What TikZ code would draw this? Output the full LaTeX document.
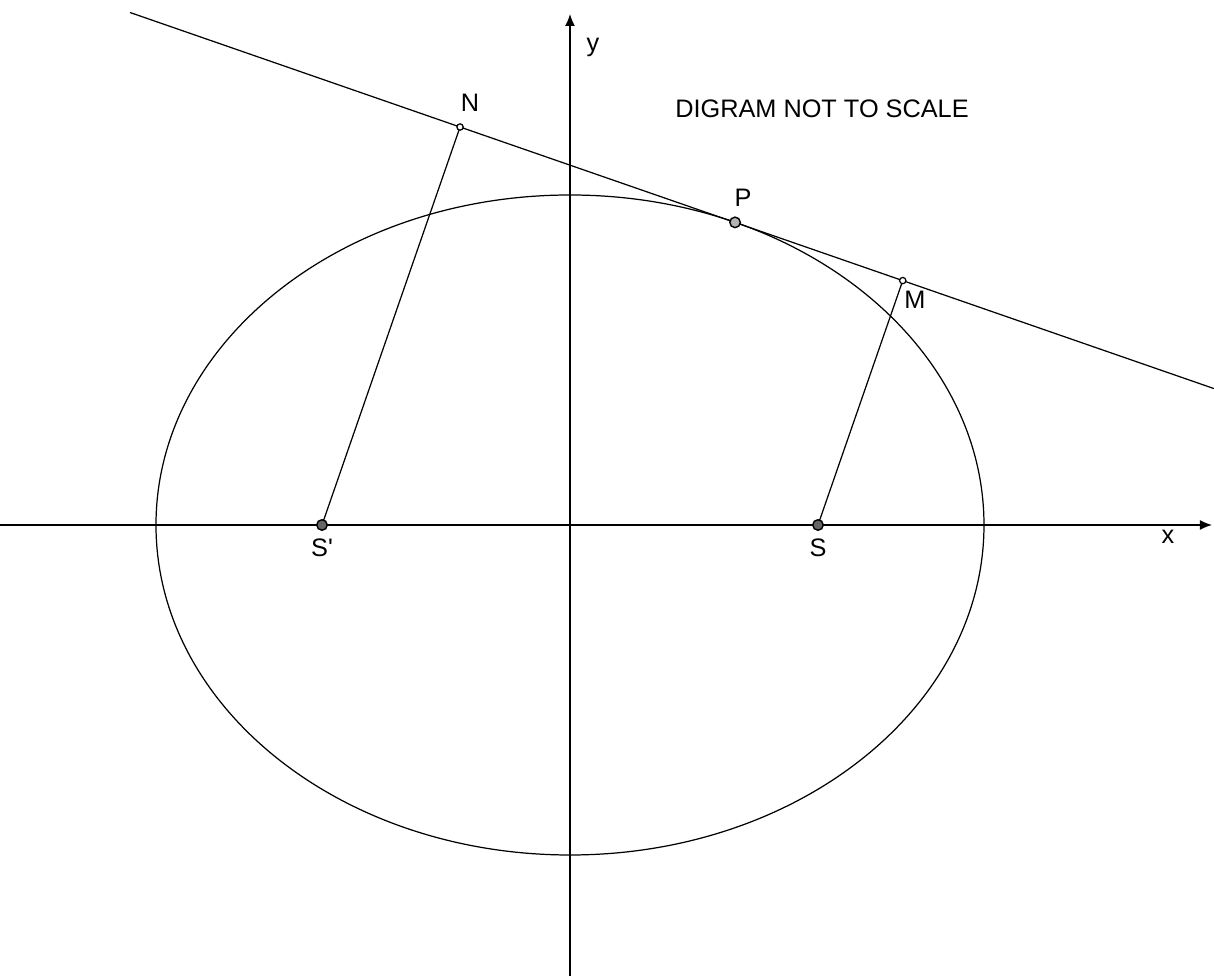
\documentclass[tikz,border=0pt]{standalone}
\usepackage{fontspec}
\setmainfont{Liberation Sans}
\usetikzlibrary{arrows.meta, calc}
\tikzstyle{line} = [draw, line width=0.35pt]

\begin{document}
\begin{tikzpicture}[x=1cm, y=1cm, >={Latex[length=1.2mm,width=1mm]},   %arrow tips
		font=\fontsize{7.2}{8.6}\selectfont,
		focus/.style={draw, line width=0.4pt, fill=black!60},
		point/.style={draw, line width=0.4pt, fill=black!30},
		foot/.style={draw, line width=0.35pt, fill=white}]
	\useasboundingbox (-5.70,-4.51) rectangle (6.44,5.25);
	%Punkte
	\coordinate (O) at (0,0);
	\coordinate (Sp) at (-2.48,0);
	\coordinate (S) at (2.48,0);
	\coordinate (P) at (66.5:4.14 and 3.30);
	\coordinate (T1) at (-4.40,5.125);
	\coordinate (T2) at (6.44,1.364);
	\coordinate (N) at ($(T1)!(Sp)!(T2)$);
	\coordinate (M) at ($(T1)!(S)!(T2)$);
	\coordinate (xl) at (-5.70,0);
	\coordinate (xr) at (6.42,0);
	\coordinate (yb) at (0,-4.51);
	\coordinate (yt) at (0,5.11);
	%Achsen
	\draw [->, line width=0.4pt] (xl) -- (xr);
	\draw [->, line width=0.4pt] (yb) -- (yt);
	%Ellipse und Tangente
	\draw [line] (O) ellipse [x radius=4.14, y radius=3.30];
	\draw [line] (T1) -- (T2);
	\draw [line] (Sp) -- (N);
	\draw [line] (S) -- (M);
	%Punkte zeichnen
	\draw [focus] (Sp) circle (1.5pt);
	\draw [focus] (S) circle (1.5pt);
	\draw [point] (P) circle (1.5pt);
	\draw [foot] (N) circle (0.9pt);
	\draw [foot] (M) circle (0.9pt);
	%Beschriftung
	\node (lN) at (-1.00,4.22) {N};
	\node (lP) at (1.73,3.27) {P};
	\node (lM) at (3.45,2.25) {M};
	\node (lSp) at (-2.48,-0.23) {S\textquotesingle};
	\node (lS) at (2.48,-0.23) {S};
	\node (lx) at (5.98,-0.12) {x};
	\node (ly) at (0.23,4.78) {y};
	\node (note) at (2.52,4.16) {DIGRAM NOT TO SCALE};
\end{tikzpicture}
\end{document}
